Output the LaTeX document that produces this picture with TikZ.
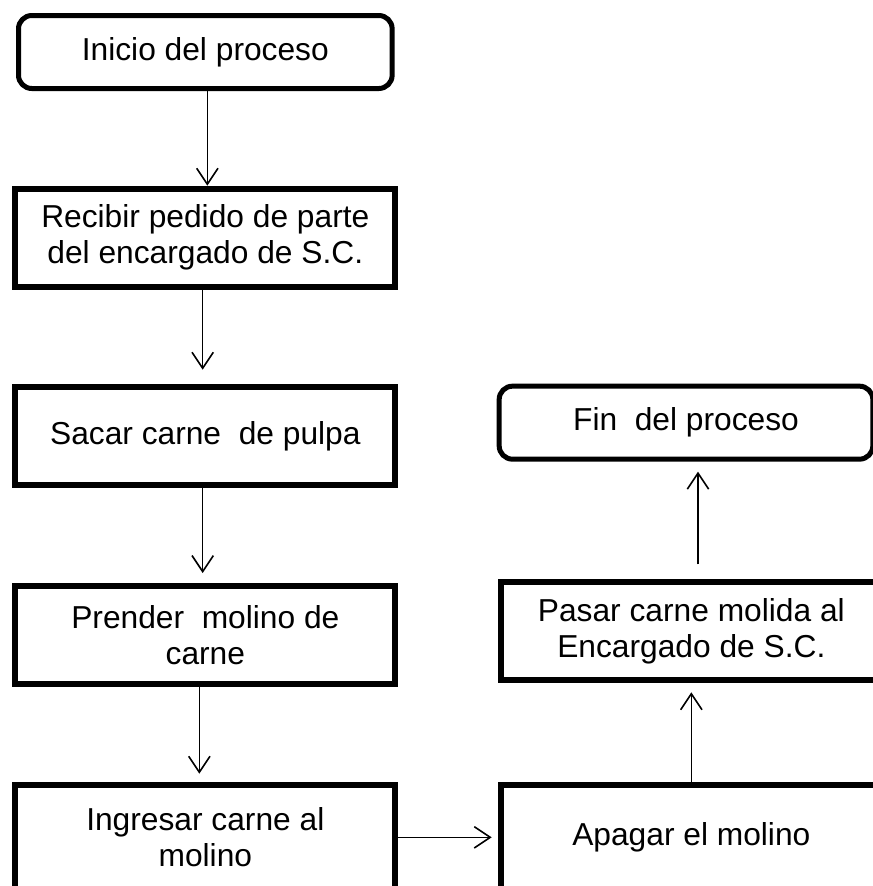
\documentclass[tikz,border=0pt]{standalone}
\usepackage{fontspec}
\setmainfont{Liberation Sans}
\usetikzlibrary{arrows.meta,positioning}
\newcommand{\boxfont}{\fontsize{23.8}{27}\selectfont}
\tikzset{
  terminal/.style={
    rectangle,
    rounded corners=10pt,
    draw=black,
    line width=3.75pt,
    align=center,
    minimum width=280.25pt,
    minimum height=54.75pt,
    font=\boxfont
  },
  process/.style={
    rectangle,
    draw=black,
    line width=4.5pt,
    align=center,
    minimum width=285pt,
    minimum height=73.5pt,
    font=\boxfont
  },
  lastprocess/.style={
    process,
    minimum height=79pt
  },
  arrow/.style={
    -{Straight Barb[length=12pt,width=16pt]},
    line width=1.2pt,
    draw=black
  }
}

\begin{document}
\begin{tikzpicture}[node distance=71pt and 75pt]
  \clip (0,0) rectangle (654.75pt,-664.5pt);
  \node[terminal] (inicio) at (154pt,-39pt) {Inicio del proceso};
  \node[process, below=of inicio] (recibir) {Recibir pedido de parte\\del encargado de S.C.};
  \node[process, below=of recibir] (sacar) {Sacar carne~ de pulpa};
  \node[process, below=of sacar] (prender) {Prender~ molino de\\carne};
  \node[lastprocess, below=of prender] (ingresar) {Ingresar carne al\\molino};
  \node[lastprocess, right=of ingresar] (apagar) {Apagar el molino};
  \node[process, above=74pt of apagar] (pasar) {Pasar carne molida al\\Encargado de S.C.};
  \node[terminal, above=88pt of pasar, xshift=-4pt] (fin) {Fin~ del proceso};

  \draw[arrow] ([xshift=1.5pt]inicio.south) -- ([xshift=1.5pt]inicio.south |- recibir.north);
  \draw[arrow, shorten >=11pt] ([xshift=-2pt]recibir.south) -- ([xshift=-2pt]sacar.north);
  \draw[arrow, shorten >=7.5pt] ([xshift=-2pt]sacar.south) -- ([xshift=-2pt]prender.north);
  \draw[arrow, shorten >=6pt] ([xshift=-4.5pt]prender.south) -- ([xshift=-4.5pt]ingresar.north);
  \draw[arrow, shorten >=5pt] (ingresar.east) -- (apagar.west);
  \draw[arrow, shorten >=7pt] (apagar.north) -- (pasar.south);
  \draw[arrow, shorten <=11pt, shorten >=7.5pt] ([xshift=5pt]pasar.north) -- ([xshift=5pt]pasar.north |- fin.south);
\end{tikzpicture}
\end{document}
